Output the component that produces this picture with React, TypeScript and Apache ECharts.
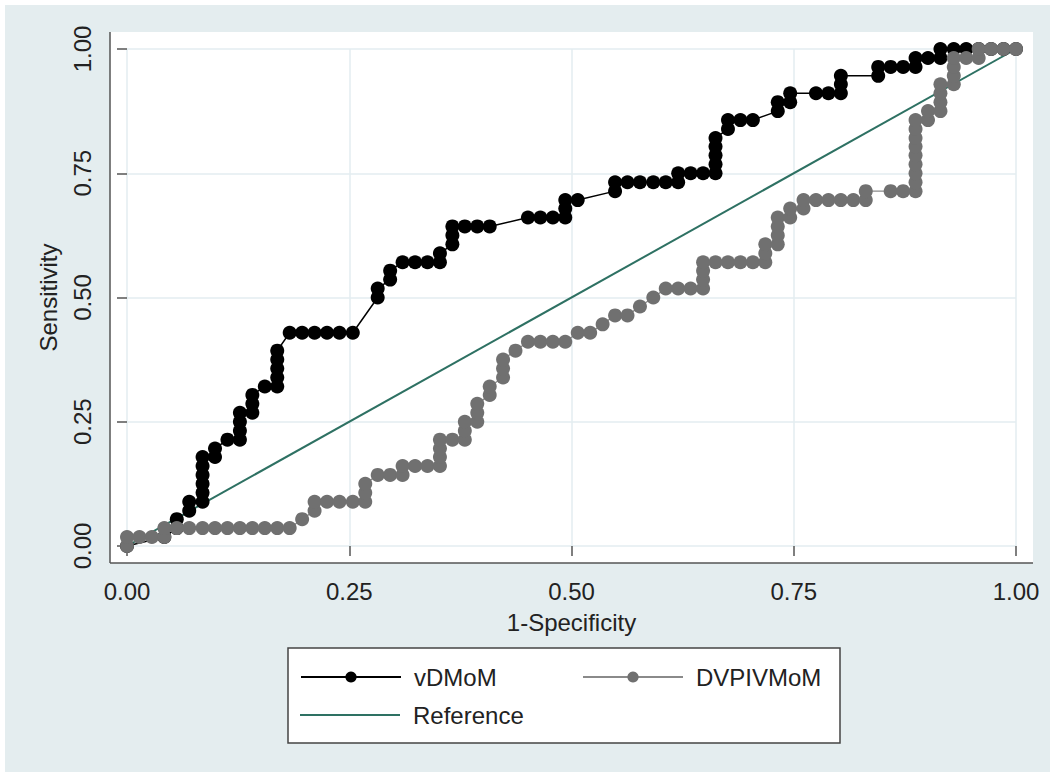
import React, { useEffect, useRef } from "react";
import * as echarts from "echarts";

// vDMoM ROC points (1-Specificity, Sensitivity)
const vdX = [0, 0.042, 0.056, 0.056, 0.07, 0.07, 0.085, 0.085, 0.085, 0.085, 0.085, 0.085, 0.099, 0.099, 0.113, 0.127, 0.127, 0.127, 0.127, 0.141, 0.141, 0.141, 0.155, 0.169, 0.169, 0.169, 0.169, 0.169, 0.183, 0.197, 0.211, 0.225, 0.239, 0.254, 0.282, 0.282, 0.296, 0.296, 0.31, 0.324, 0.338, 0.352, 0.352, 0.366, 0.366, 0.366, 0.38, 0.394, 0.408, 0.451, 0.465, 0.479, 0.493, 0.493, 0.493, 0.507, 0.549, 0.549, 0.563, 0.577, 0.592, 0.606, 0.62, 0.62, 0.634, 0.648, 0.662, 0.662, 0.662, 0.662, 0.662, 0.676, 0.676, 0.69, 0.704, 0.732, 0.732, 0.746, 0.746, 0.775, 0.789, 0.803, 0.803, 0.803, 0.845, 0.845, 0.859, 0.873, 0.887, 0.887, 0.901, 0.915, 0.915, 0.93, 0.944, 0.958, 0.972, 0.986, 1];
const vdY = [0, 0.018, 0.036, 0.054, 0.071, 0.089, 0.089, 0.107, 0.125, 0.143, 0.161, 0.179, 0.179, 0.196, 0.214, 0.214, 0.232, 0.25, 0.268, 0.268, 0.286, 0.304, 0.321, 0.321, 0.339, 0.357, 0.375, 0.393, 0.429, 0.429, 0.429, 0.429, 0.429, 0.429, 0.5, 0.518, 0.536, 0.554, 0.571, 0.571, 0.571, 0.571, 0.589, 0.607, 0.625, 0.643, 0.643, 0.643, 0.643, 0.661, 0.661, 0.661, 0.661, 0.679, 0.696, 0.696, 0.714, 0.732, 0.732, 0.732, 0.732, 0.732, 0.732, 0.75, 0.75, 0.75, 0.75, 0.768, 0.786, 0.804, 0.821, 0.839, 0.857, 0.857, 0.857, 0.875, 0.893, 0.893, 0.911, 0.911, 0.911, 0.911, 0.929, 0.946, 0.946, 0.964, 0.964, 0.964, 0.964, 0.982, 0.982, 0.982, 1, 1, 1, 1, 1, 1, 1];

// DVPIVMoM ROC points
const dvX = [0, 0, 0.014, 0.028, 0.042, 0.042, 0.056, 0.07, 0.085, 0.099, 0.113, 0.127, 0.141, 0.155, 0.169, 0.183, 0.197, 0.211, 0.211, 0.225, 0.239, 0.254, 0.268, 0.268, 0.268, 0.282, 0.296, 0.31, 0.31, 0.324, 0.338, 0.352, 0.352, 0.352, 0.352, 0.366, 0.38, 0.38, 0.38, 0.394, 0.394, 0.394, 0.408, 0.408, 0.423, 0.423, 0.423, 0.437, 0.451, 0.465, 0.479, 0.493, 0.507, 0.521, 0.535, 0.549, 0.563, 0.577, 0.592, 0.606, 0.62, 0.634, 0.648, 0.648, 0.648, 0.648, 0.662, 0.676, 0.69, 0.704, 0.718, 0.718, 0.718, 0.732, 0.732, 0.732, 0.732, 0.746, 0.746, 0.761, 0.761, 0.775, 0.789, 0.803, 0.817, 0.831, 0.831, 0.859, 0.873, 0.887, 0.887, 0.887, 0.887, 0.887, 0.887, 0.887, 0.887, 0.887, 0.901, 0.901, 0.915, 0.915, 0.915, 0.915, 0.93, 0.93, 0.93, 0.93, 0.944, 0.958, 0.958, 0.972, 0.986, 1];
const dvY = [0, 0.018, 0.018, 0.018, 0.018, 0.036, 0.036, 0.036, 0.036, 0.036, 0.036, 0.036, 0.036, 0.036, 0.036, 0.036, 0.054, 0.071, 0.089, 0.089, 0.089, 0.089, 0.089, 0.107, 0.125, 0.143, 0.143, 0.143, 0.161, 0.161, 0.161, 0.161, 0.179, 0.196, 0.214, 0.214, 0.214, 0.232, 0.25, 0.25, 0.268, 0.286, 0.304, 0.321, 0.339, 0.357, 0.375, 0.393, 0.411, 0.411, 0.411, 0.411, 0.429, 0.429, 0.446, 0.464, 0.464, 0.482, 0.5, 0.518, 0.518, 0.518, 0.518, 0.536, 0.554, 0.571, 0.571, 0.571, 0.571, 0.571, 0.571, 0.589, 0.607, 0.607, 0.625, 0.643, 0.661, 0.661, 0.679, 0.679, 0.696, 0.696, 0.696, 0.696, 0.696, 0.696, 0.714, 0.714, 0.714, 0.714, 0.732, 0.75, 0.768, 0.786, 0.804, 0.821, 0.839, 0.857, 0.857, 0.875, 0.875, 0.893, 0.911, 0.929, 0.929, 0.946, 0.964, 0.982, 0.982, 0.982, 1, 1, 1, 1];

// Reference diagonal
const refX = [0, 1];
const refY = [0, 1];

const seriesNames = ["vDMoM", "DVPIVMoM", "Reference"];
const axisTicks = [0, 0.25, 0.5, 0.75, 1];

const zip = (xs: number[], ys: number[]) => xs.map((x, i) => [x, ys[i]]);

export default function App() {
  const ref = useRef<HTMLDivElement>(null);
  useEffect(() => {
    document.body.style.margin = "0";
    const chart = echarts.init(ref.current!, undefined, { renderer: "svg" });
    const font = "'Liberation Sans', Arial, Helvetica, sans-serif";
    const axisCommon = {
      type: "value" as const,
      min: axisTicks[0],
      max: axisTicks[axisTicks.length - 1],
      interval: 0.25,
      offset: 17,
      nameLocation: "middle" as const,
      nameTextStyle: { fontSize: 24, color: "#222", fontFamily: font },
      axisLine: { show: false },
      axisTick: { show: true, length: 10, lineStyle: { color: "#555", width: 1.5 } },
      splitLine: { show: true, lineStyle: { color: "#e3edf0", width: 1.5 } },
    };
    const legendCommon = {
      itemWidth: 100,
      itemHeight: 14,
      padding: 0,
      selectedMode: false,
      textStyle: { fontSize: 24, color: "#222", fontFamily: font, padding: [0, 0, 0, 8] },
    };
    chart.setOption({
      animation: false,
      backgroundColor: "#ffffff",
      textStyle: { fontFamily: font },
      grid: { left: 127, right: 34, top: 49, bottom: 226, containLabel: false },
      xAxis: {
        ...axisCommon,
        name: "1-Specificity",
        nameGap: 47,
        axisLabel: {
          fontSize: 24,
          color: "#222",
          margin: 16,
          fontFamily: font,
          formatter: (v: number) => v.toFixed(2),
        },
      },
      yAxis: {
        ...axisCommon,
        name: "Sensitivity",
        nameGap: 50,
        axisLabel: {
          fontSize: 24,
          color: "#222",
          margin: 16,
          rotate: 90,
          fontFamily: font,
          formatter: (v: number) => v.toFixed(2),
        },
      },
      legend: [
        { ...legendCommon, data: [seriesNames[0]], left: 300, top: 665 },
        { ...legendCommon, data: [seriesNames[1]], left: 582, top: 665 },
        { ...legendCommon, data: [seriesNames[2]], left: 300, top: 703, icon: "rect", itemHeight: 2 },
      ],
      graphic: [
        { type: "rect", z: -10, shape: { x: 5, y: 5, width: 1045, height: 767 }, style: { fill: "#e4edef" } },
        { type: "rect", z: -9, shape: { x: 110, y: 32, width: 923, height: 531 }, style: { fill: "#ffffff" } },
        { type: "line", z: 10, shape: { x1: 110, y1: 32, x2: 110, y2: 563 }, style: { stroke: "#555", lineWidth: 1.5 } },
        { type: "line", z: 10, shape: { x1: 110, y1: 563, x2: 1033, y2: 563 }, style: { stroke: "#555", lineWidth: 1.5 } },
        { type: "rect", z: -5, shape: { x: 288, y: 648, width: 552, height: 95 }, style: { fill: "#ffffff", stroke: "#444", lineWidth: 1.5 } },
      ],
      series: [
        {
          name: seriesNames[0],
          type: "line",
          data: zip(vdX, vdY),
          symbol: "circle",
          symbolSize: 14,
          showAllSymbol: true,
          lineStyle: { color: "#000", width: 1.5 },
          itemStyle: { color: "#000", borderWidth: 0 },
          emphasis: { disabled: true },
        },
        {
          name: seriesNames[1],
          type: "line",
          data: zip(dvX, dvY),
          symbol: "circle",
          symbolSize: 14,
          showAllSymbol: true,
          lineStyle: { color: "#8a8a8a", width: 1.3 },
          itemStyle: { color: "#707070", borderWidth: 0 },
          emphasis: { disabled: true },
        },
        {
          name: seriesNames[2],
          type: "line",
          data: zip(refX, refY),
          symbol: "none",
          lineStyle: { color: "#2e7163", width: 2 },
          itemStyle: { color: "#2e7163" },
          emphasis: { disabled: true },
        },
      ],
    });
    return () => chart.dispose();
  }, []);
  return <div ref={ref} style={{ position: "absolute", left: 0, top: 0, width: 1050, height: 772 }} />;
}
